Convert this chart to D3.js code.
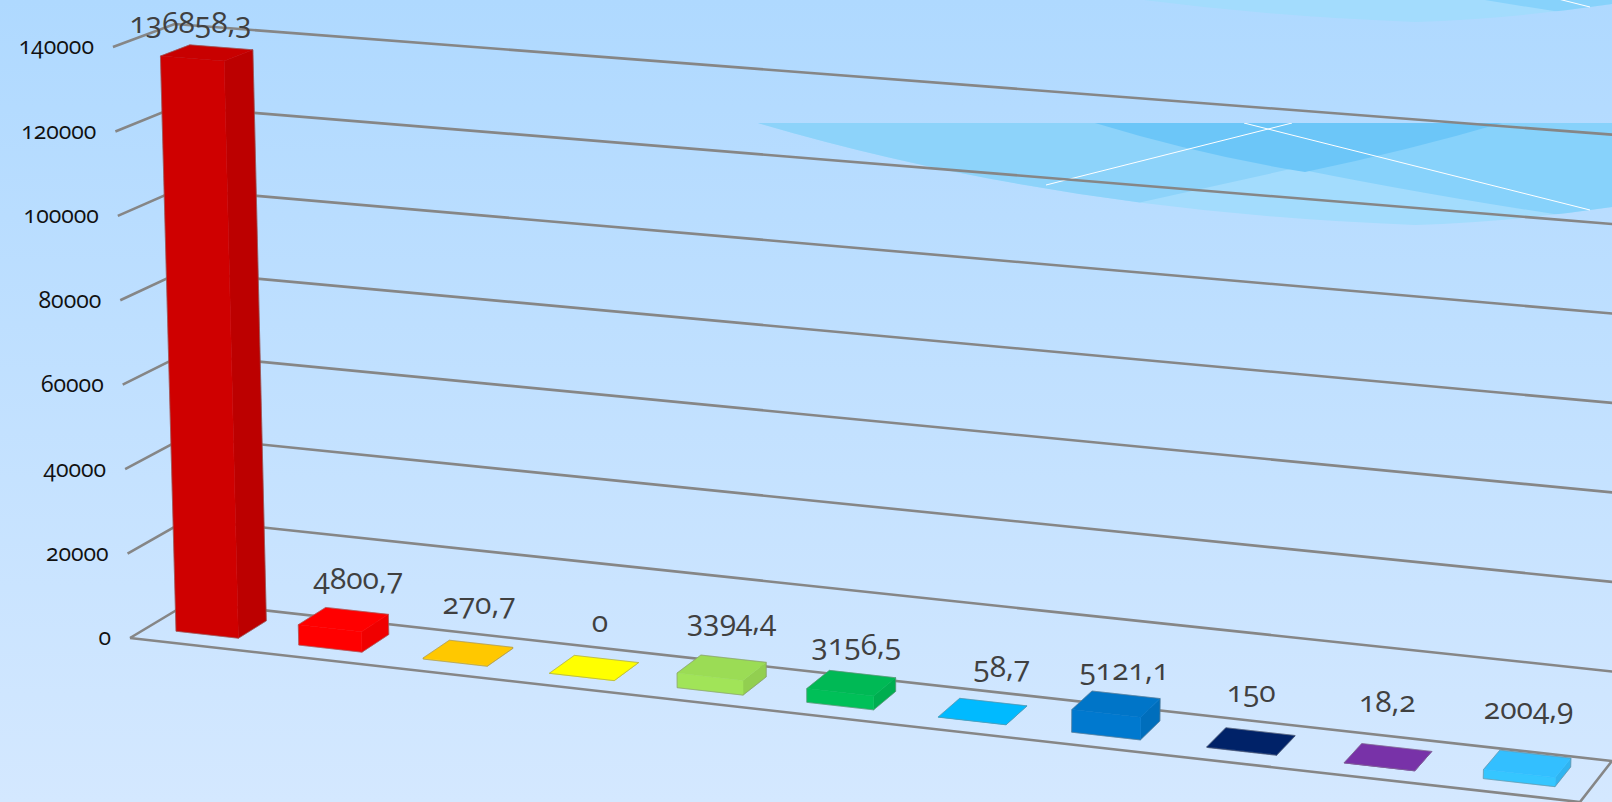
<!DOCTYPE html>
<html lang="en">
<head>
<meta charset="UTF-8">
<title>3D bar chart</title>
<script src="https://d3js.org/d3.v7.min.js"></script>
<style>
  html, body { margin: 0; padding: 0; overflow: hidden; }
  svg { display: block; }
  text { font-family: "Open Sans", sans-serif; font-feature-settings: "onum"; }
</style>
</head>
<body>
<div id="chart"></div>
<script>
// chart data
const values = [136858.3, 4800.7, 270.7, 0, 3394.4, 3156.5, 58.7, 5121.1, 150, 18.2, 2004.9];
const valueLabels = ["136858,3", "4800,7", "270,7", "0", "3394,4", "3156,5", "58,7", "5121,1", "150", "18,2", "2004,9"];
const axisTicks = [0, 20000, 40000, 60000, 80000, 100000, 120000, 140000];
const barColors = ["#c80000", "#ff0000", "#ffc800", "#ffff00", "#9bdc55", "#00b955", "#00baff", "#0075c8", "#002268", "#7832a8", "#33bfff"];

// label offsets from the top centre of each bar
const labelNudge = [[-15, -30], [16, -41], [12, -49], [7, -46], [11, -47], [6, -39], [20, -45], [9, -34], [1, -50], [0, -56], [2, -55]];

const width = 1612, height = 802;

// floor corners of the 3d box, as seen on screen
const FL = [130, 638], FR = [1580, 802], BL = [190, 602], BR = [1612, 761];
const lerp = (a, b, t) => a + (b - a) * t;

// x runs along the categories, right hand side is nearer the camera
const warp = u => u / (1.08 - 0.08 * u);

const x = d3.scaleBand().domain(d3.range(values.length)).range([0, 1]).paddingInner(0.49).paddingOuter(0.24);
const y = d3.scaleLinear().domain([0, 140000]).range([0, 1]);
const depth = [0.28, 0.76];

function project(u, d, h) {
  const f = warp(u);
  const fx = lerp(lerp(FL[0], FR[0], f), lerp(BL[0], BR[0], f), d);
  const fy = lerp(lerp(FL[1], FR[1], f), lerp(BL[1], BR[1], f), d);
  const px = h * (368 - 0.0062 * fx + 0.3508 * fy);
  const lean = (fx - 870) * 3.9e-5 * px;
  return [fx + lean, fy - px];
}

const svg = d3.select("#chart").append("svg").attr("width", width).attr("height", height);

// background
const defs = svg.append("defs");
const grad = defs.append("linearGradient").attr("id", "bg").attr("x1", 0).attr("y1", 0).attr("x2", 0).attr("y2", 1);
grad.append("stop").attr("offset", 0).attr("stop-color", "#afd9ff");
grad.append("stop").attr("offset", 1).attr("stop-color", "#d4e8ff");
svg.append("rect").attr("width", width).attr("height", height).attr("fill", "url(#bg)");

// decorative wave, repeated higher up and cut by the tile edge
const waveOutline = "M758,123 Q1060,212 1415,225 Q1510,222 1612,207 L1612,123 Z";
defs.append("clipPath").attr("id", "tile").append("rect").attr("y", 123).attr("width", width).attr("height", 120);
defs.append("clipPath").attr("id", "tileTop").append("rect").attr("y", 0).attr("width", width).attr("height", 23);
defs.append("clipPath").attr("id", "waveShape").append("path").attr("d", waveOutline);

function wave(g) {
  g.append("path").attr("fill", "#a3dcfd").attr("d", waveOutline);
  const inner = g.append("g").attr("clip-path", "url(#waveShape)");
  inner.append("path").attr("fill", "#8dd3fa")
    .attr("d", "M700,123 L700,260 L1000,260 L1142,202 Q1330,160 1502,123 Z");
  inner.append("path").attr("fill", "#87d2fb")
    .attr("d", "M1095,123 Q1300,175 1560,215 L1620,240 L1620,123 Z");
  inner.append("path").attr("fill", "#6cc6f8")
    .attr("d", "M1095,123 Q1200,155 1305,172 Q1410,150 1502,123 Z");
  g.append("path").attr("fill", "none").attr("stroke", "#fff").attr("stroke-width", 1)
    .attr("d", "M1046,185 L1292,123 M1244,123 L1590,210");
}
wave(svg.append("g").attr("clip-path", "url(#tile)"));
wave(svg.append("g").attr("clip-path", "url(#tileTop)").append("g").attr("transform", "translate(0,-203)"));

const line = d3.line();
const gridColor = "#868686";

// gridlines: short piece on the side wall, long piece on the back wall
const grid = svg.append("g").attr("fill", "none").attr("stroke", gridColor).attr("stroke-width", 2.6);
grid.selectAll("path").data(axisTicks).join("path")
  .attr("d", t => line([project(0, 0, y(t)), project(0, 1, y(t)), project(1, 1, y(t))]));

// front and right edge of the floor
grid.append("path").attr("d", line([project(0, 0, 0), project(1, 0, 0), project(1, 1, 0)]));

// axis labels
svg.append("g").selectAll("text").data(axisTicks).join("text")
  .attr("x", t => project(0, 0, y(t))[0] - 19)
  .attr("y", t => project(0, 0, y(t))[1])
  .attr("dy", "0.32em")
  .attr("text-anchor", "end")
  .attr("font-size", 23)
  .attr("fill", "#111")
  .text(t => t);

// bars: side, front and top face, then a faint outline round the whole block
const bars = svg.append("g").selectAll("g").data(values).join("g");

bars.each(function (v, i) {
  const g = d3.select(this);
  const u0 = x(i), u1 = x(i) + x.bandwidth(), d0 = depth[0], d1 = depth[1], h = y(v);
  const c = d3.color(barColors[i]);
  const side = [[u1, d0, 0], [u1, d1, 0], [u1, d1, h], [u1, d0, h]].map(p => project(...p));
  const front = [[u0, d0, 0], [u1, d0, 0], [u1, d0, h], [u0, d0, h]].map(p => project(...p));
  const top = [[u0, d0, h], [u1, d0, h], [u1, d1, h], [u0, d1, h]].map(p => project(...p));
  [[side, c.darker(0.17)], [front, c.brighter(0.1)], [top, c]].forEach(([pts, fill]) => {
    g.append("path").attr("fill", fill).attr("stroke", fill).attr("stroke-width", 0.5)
      .attr("d", line(pts) + "Z");
  });
  g.append("path").attr("fill", "none").attr("stroke", "#808080").attr("stroke-opacity", 0.5).attr("stroke-width", 1)
    .attr("d", line(d3.polygonHull([...side, ...front, ...top])) + "Z");
});

// value labels
svg.append("g").selectAll("text").data(values).join("text")
  .attr("x", (v, i) => project(x(i) + x.bandwidth() / 2, 0.5, y(v))[0] + labelNudge[i][0])
  .attr("y", (v, i) => project(x(i) + x.bandwidth() / 2, 0.5, y(v))[1] + labelNudge[i][1])
  .attr("dy", "0.32em")
  .attr("text-anchor", "middle")
  .attr("font-size", 30)
  .attr("fill", "#404040")
  .text((v, i) => valueLabels[i]);
</script>
</body>
</html>
